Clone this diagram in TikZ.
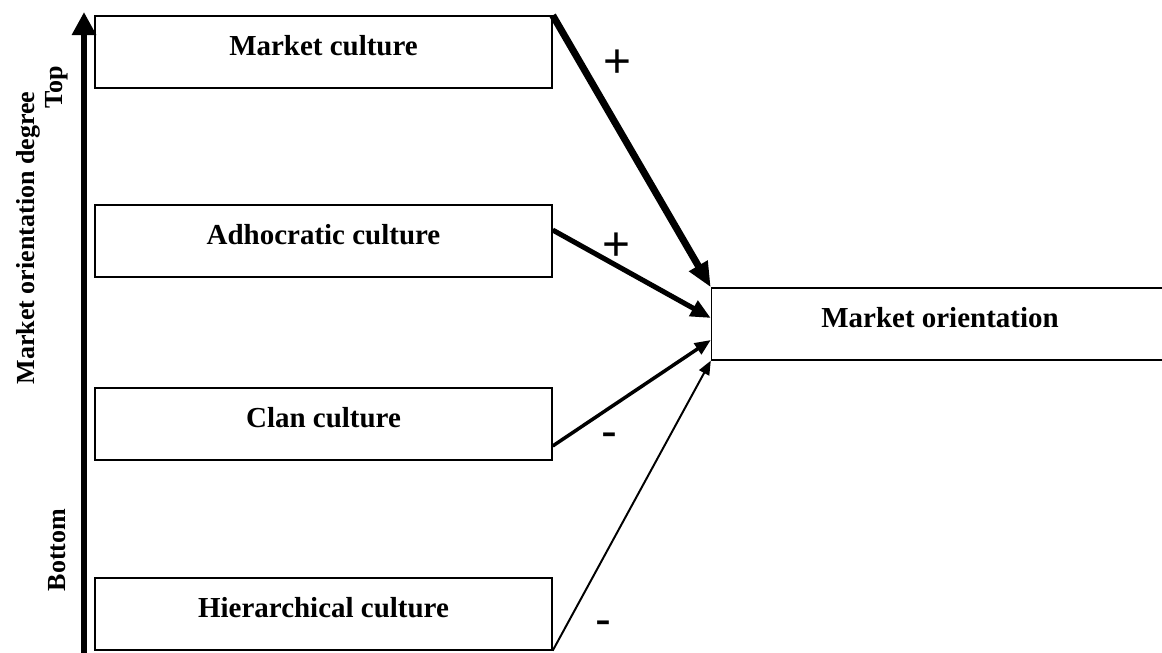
\documentclass[tikz,border=0pt]{standalone}
\usepackage{fontspec}
\setmainfont{Liberation Serif}
\newfontfamily\signfont{Liberation Sans}
\usetikzlibrary{arrows.meta, calc}

\begin{document}
\begin{tikzpicture}[x=0.025cm, y=-0.025cm,
	culture/.style={draw, line width=0.9pt, minimum width=11.425cm, minimum height=1.8cm, inner sep=0pt, font=\fontsize{20.6}{24}\selectfont\bfseries, text height=14.4pt, text depth=9pt},
	axislabel/.style={rotate=90, inner sep=0pt, font=\fontsize{18.5}{22}\selectfont\bfseries},
	sign/.style={inner sep=0pt, font=\fontsize{34}{40}\selectfont\signfont, text height=23.8pt, text depth=0pt}]
	\useasboundingbox (0,0) rectangle (1162,652);
	\clip (0,0) rectangle (1162,652);
	% boxes
	\node[culture] (mc) at (323.5,52) {Market culture};
	\node[culture] (ac) at (323.5,241) {Adhocratic culture};
	\node[culture] (cc) at (323.5,424) {Clan culture};
	\node[culture] (hc) at (323.5,614) {Hierarchical culture};
	\node[culture] (mo) at (940,324) {Market orientation};
	% degree axis
	\coordinate (axisbot) at (84,660);
	\coordinate (axistop) at (84,12);
	\draw[-{Triangle[length=0.575cm, width=0.575cm]}, line width=4.3pt] (axisbot) -- (axistop);
	\node[axislabel] (deg) at (28,238) {Market orientation degree};
	\node[axislabel] (top) at (57,87) {Top};
	\node[axislabel] (bot) at (57,550) {Bottom};
	% effects
	\draw[-{Triangle[length=0.625cm, width=0.5cm]}, line width=5pt] (mc.north east) -- (mo.north west);
	\draw[-{Triangle[length=0.5cm, width=0.42cm]}, line width=3.6pt] ($(ac.east)+(0,-11)$) -- ($(mo.west)+(0,-6)$);
	\draw[-{Triangle[length=0.4cm, width=0.32cm]}, line width=2.5pt] ($(cc.east)+(0,22)$) -- ($(mo.west)+(0,16)$);
	\draw[-{Triangle[length=0.35cm, width=0.28cm]}, line width=1.4pt] (hc.south east) -- (mo.south west);
	\node[sign] (s1) at (617,61) {+};
	\node[sign] (s2) at (616,244) {+};
	\node[sign] (s3) at (609,431) {-};
	\node[sign] (s4) at (603,619) {-};
\end{tikzpicture}
\end{document}
